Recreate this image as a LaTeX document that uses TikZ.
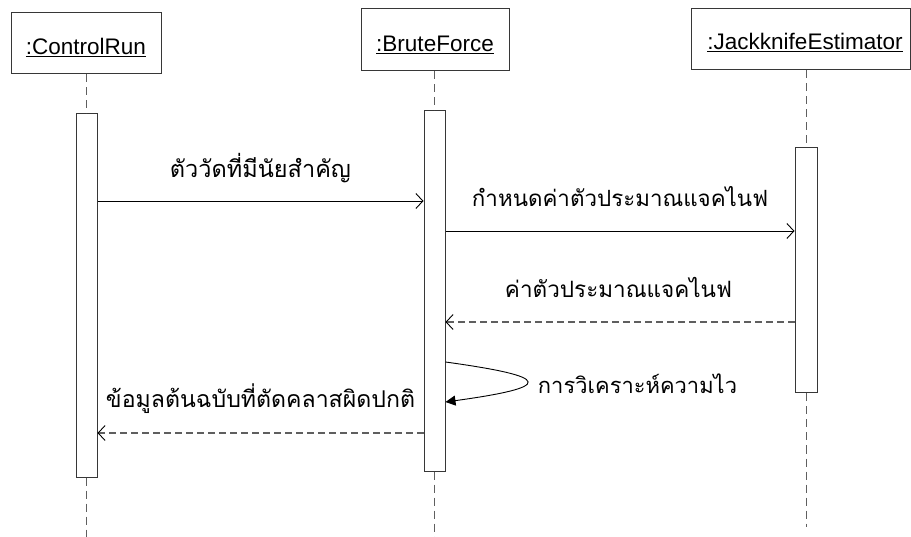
\documentclass[tikz,border=0pt]{standalone}
\usepackage{fontspec}
\setmainfont{Liberation Sans}
\newfontfamily\thai[Script=Thai]{Loma}
\usetikzlibrary{arrows.meta}
\definecolor{boxline}{RGB}{55,55,55}
\definecolor{dashgray}{RGB}{95,95,95}
\newcommand{\thw}[2]{\resizebox{#1}{!}{\thai #2}}
\begin{document}
\begin{tikzpicture}[x=1pt,y=-1pt,
  obj/.style={draw=boxline, line width=1pt, fill=white, inner sep=0pt},
  act/.style={draw=boxline, line width=1pt, fill=white, inner sep=0pt},
  life/.style={draw=dashgray, line width=0.9pt, dash pattern=on 8pt off 5pt},
  msg/.style={draw=black, line width=0.9pt, -{Straight Barb[length=7pt,width=15pt,line width=0.9pt]}},
  ret/.style={draw=dashgray, line width=1.1pt, dash pattern=on 7pt off 4pt,
     -{Straight Barb[length=7pt,width=15pt,line width=0.9pt,color=black]}},
  selfmsg/.style={draw=black, line width=0.9pt, -{Triangle[length=10pt,width=10pt]}},
  lbl/.style={anchor=base, inner sep=0pt},
  objtxt/.style={anchor=base, inner sep=0pt, font=\fontsize{22.5}{27}\selectfont}]
\useasboundingbox (0,0) rectangle (911,537);
% object boxes
\node[obj, minimum width=150pt, minimum height=61pt] (cr) at (86,43.5) {};
\node[obj, minimum width=148pt, minimum height=62pt] (bf) at (435,40) {};
\node[obj, minimum width=219pt, minimum height=61pt] (jk) at (800.5,39.5) {};
\node[objtxt] (crt) at (86,55) {\underline{:ControlRun}};
\node[objtxt] (bft) at (435,52) {\underline{:BruteForce}};
\node[objtxt] (jkt) at (805,50) {\underline{:JackknifeEstimator}};
% activations
\node[act, minimum width=21pt, minimum height=363pt] (a1) at (86.5,295.5) {};
\node[act, minimum width=21pt, minimum height=360pt] (a2) at (434.5,291) {};
\node[act, minimum width=22pt, minimum height=245pt] (a3) at (806,270.5) {};
% lifelines
\coordinate (e1) at (86.5,537);
\coordinate (e2) at (434.5,537);
\coordinate (e3) at (806,527);
\draw[life] (a1.north |- cr.south) -- (a1.north);
\draw[life] (a1.south) -- (e1);
\draw[life] (a2.north |- bf.south) -- (a2.north);
\draw[life] (a2.south) -- (e2);
\draw[life] (a3.north |- jk.south) -- (a3.north);
\draw[life] (a3.south) -- (e3);
% messages
\draw[msg] (a1.east |- 0,201) -- (a2.west |- 0,201);
\node[lbl] (m1) at (260.5,178) {\thw{181pt}{ตัววัดที่มีนัยสำคัญ}};
\draw[msg] (a2.east |- 0,231) -- (a3.west |- 0,231);
\node[lbl] (m2) at (620,207) {\thw{296pt}{กำหนดค่าตัวประมาณแจคไนฟ}};
\draw[ret] (a3.west |- 0,322) -- (a2.east |- 0,322);
\node[lbl] (m3) at (618.5,298) {\thw{227pt}{ค่าตัวประมาณแจคไนฟ}};
\draw[selfmsg] (a2.east |- 0,362) .. controls (554,377) and (554,387) .. (a2.east |- 0,402);
\node[lbl] (m4) at (637.5,393) {\thw{199pt}{การวิเคราะห์ความไว}};
\draw[ret] (a2.west |- 0,433) -- (a1.east |- 0,433);
\node[lbl] (m5) at (260.5,408) {\thw{309pt}{ข้อมูลต้นฉบับที่ตัดคลาสผิดปกติ}};
\end{tikzpicture}
\end{document}
